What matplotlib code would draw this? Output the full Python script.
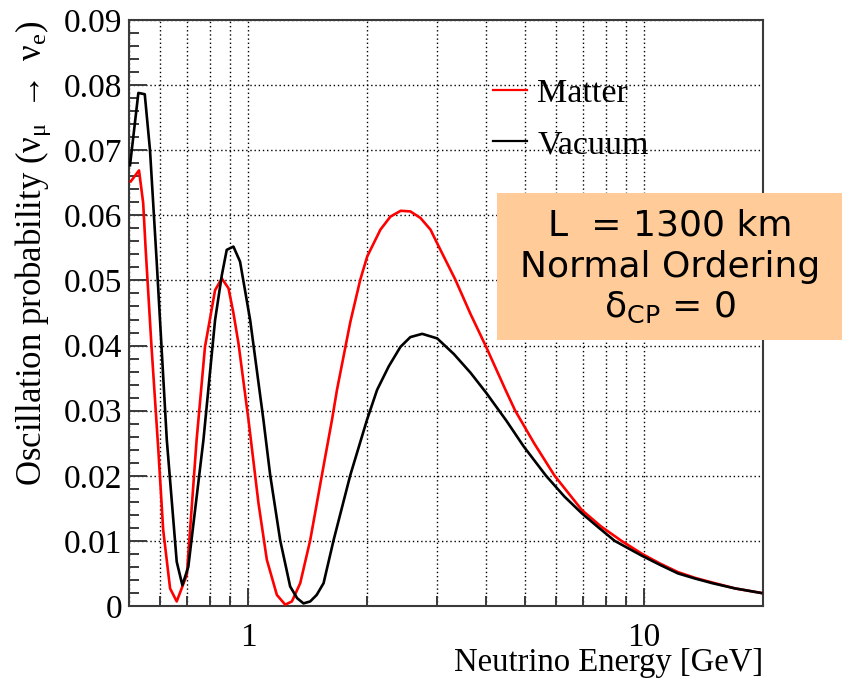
import matplotlib
matplotlib.use("Agg")
import matplotlib.pyplot as plt
from matplotlib.ticker import FixedLocator, NullFormatter, AutoMinorLocator, FuncFormatter, LogLocator
from matplotlib.patches import Rectangle

plt.rcParams['font.family'] = ['Liberation Serif', 'DejaVu Sans']
plt.rcParams['mathtext.default'] = 'regular'
plt.rcParams['mathtext.fontset'] = 'stix'

# ---- data ----
vac_E = [0.503, 0.528, 0.548, 0.565, 0.587, 0.623, 0.660, 0.682, 0.706, 0.771, 0.825,
         0.858, 0.883, 0.918, 0.954, 1.012, 1.093, 1.137, 1.205, 1.277, 1.330, 1.380,
         1.435, 1.490, 1.551, 1.644, 1.812, 1.997, 2.118, 2.266, 2.426, 2.570, 2.753,
         3.004, 3.31, 3.65, 4.00, 4.50, 4.97, 5.66, 6.30, 6.98, 7.70, 8.44, 9.90,
         11.0, 12.2, 13.5, 14.9, 17.0, 19.8]
vac_P = [0.0677, 0.0788, 0.0786, 0.0700, 0.0532, 0.0255, 0.0068, 0.0032, 0.0060, 0.0255, 0.0439,
         0.0508, 0.0547, 0.0552, 0.0529, 0.0439, 0.0286, 0.0201, 0.0101, 0.0030, 0.0012, 0.0004,
         0.0007, 0.0017, 0.0035, 0.0101, 0.0201, 0.0286, 0.0332, 0.0368, 0.0398, 0.0413, 0.0418,
         0.0411, 0.0387, 0.0358, 0.0327, 0.0284, 0.0245, 0.0200, 0.0168, 0.0142, 0.0120, 0.0100, 0.0077,
         0.0063, 0.0050, 0.0042, 0.0035, 0.0027, 0.0020]

mat_E = [0.505, 0.530, 0.543, 0.551, 0.570, 0.593, 0.610, 0.635, 0.660, 0.700, 0.741,
         0.778, 0.825, 0.858, 0.892, 0.918, 0.945, 1.002, 1.062, 1.115, 1.182, 1.241,
         1.290, 1.354, 1.435, 1.536, 1.629, 1.677, 1.812, 1.920, 2.000, 2.159, 2.288,
         2.430, 2.570, 2.725, 2.890, 3.004, 3.34, 3.65, 3.98, 4.47, 4.73, 5.28, 5.95,
         6.98, 7.80, 8.78, 9.90, 11.0, 12.2, 13.5, 14.9, 17.0, 19.8]
mat_P = [0.0652, 0.0669, 0.0619, 0.0547, 0.0398, 0.0240, 0.0117, 0.0027, 0.0007, 0.0048, 0.0255,
         0.0398, 0.0485, 0.0503, 0.0488, 0.0450, 0.0404, 0.0286, 0.0158, 0.0071, 0.0017, 0.0002,
         0.0007, 0.0035, 0.0101, 0.0201, 0.0286, 0.0332, 0.0436, 0.0501, 0.0537, 0.0578, 0.0598,
         0.0607, 0.0606, 0.0596, 0.0578, 0.0557, 0.0501, 0.0448, 0.0400, 0.0332, 0.0300, 0.0250, 0.0200,
         0.0147, 0.0122, 0.0100, 0.0080, 0.0065, 0.0052, 0.0043, 0.0036, 0.0027, 0.0020]

series_labels = ["Matter", "Vacuum"]
x_major = [1, 10]
x_major_labels = ["1", "10"]
y_major = [0, 0.01, 0.02, 0.03, 0.04, 0.05, 0.06, 0.07, 0.08, 0.09]
box_lines = ["L  = 1300 km", "Normal Ordering", r"$\delta_{CP}$ = 0"]

W, H = 842, 678
fig = plt.figure(figsize=(W / 100, H / 100), dpi=100)
L, R, T, B = 129, 763, 20, 606
ax = fig.add_axes([L / W, 1 - B / H, (R - L) / W, (B - T) / H])

ax.set_xscale('log')
ax.plot(mat_E, mat_P, color='#ff0000', lw=1.9, label=series_labels[0], zorder=3)
ax.plot(vac_E, vac_P, color='black', lw=1.9, label=series_labels[1], zorder=3)
ax.set_xlim(0.5, 20)
ax.set_ylim(0, 0.09)

ax.xaxis.set_major_locator(FixedLocator(x_major))
ax.xaxis.set_major_formatter(FuncFormatter(lambda v, p: x_major_labels[x_major.index(round(v))] if round(v) in x_major else ''))
ax.xaxis.set_minor_locator(LogLocator(base=10, subs=[2, 3, 4, 5, 6, 7, 8, 9]))
ax.xaxis.set_minor_formatter(NullFormatter())
ax.yaxis.set_major_locator(FixedLocator(y_major))
ax.yaxis.set_major_formatter(FuncFormatter(lambda v, p: '0' if abs(v) < 1e-9 else f'{v:.2f}'))
ax.yaxis.set_minor_locator(AutoMinorLocator(5))

spine_c = '#3a3a3a'
for s in ax.spines.values():
    s.set_color(spine_c)
    s.set_linewidth(1.5)
ax.tick_params(which='both', direction='in', color=spine_c, width=1.4, labelsize=24)
ax.tick_params(which='major', length=13)
ax.tick_params(which='minor', length=7)
ax.tick_params(axis='y', which='both', pad=5)
ax.tick_params(axis='x', which='both', pad=12)

gstyle = dict(color='black', linestyle=(0, (1, 2)), linewidth=1.0)
ax.grid(True, axis='x', which='both', **gstyle)
ax.grid(True, axis='y', which='major', **gstyle)
ax.set_axisbelow(True)

leg = ax.legend(loc='upper left', bbox_to_anchor=(493 / W, 1 - 78 / H), bbox_transform=fig.transFigure,
                frameon=False, fontsize=24.5, handlelength=1.0, handletextpad=0.3,
                labelspacing=0.6, borderpad=0, borderaxespad=0)
for h in leg.legend_handles:
    h.set_linewidth(1.6)

fig.text(33 / W, 1 - T / H, r'Oscillation probability ($\nu_{\mu}$ $\rightarrow$ $\nu_{e}$)',
         rotation=90, ha='center', va='top', fontsize=25, math_fontfamily='stix')
fig.text(R / W, 1 - 671 / H, 'Neutrino Energy [GeV]', ha='right', va='baseline', fontsize=23.5)

fig.add_artist(Rectangle((497 / W, 1 - 340 / H), 400 / W, 147 / H, transform=fig.transFigure,
                         facecolor='#ffcc99', edgecolor='none', zorder=10))
baselines = [236, 277, 317]
for txt, bl in zip(box_lines, baselines):
    fig.text(670 / W, 1 - bl / H, txt, ha='center', va='baseline', fontsize=26,
             family='DejaVu Sans', math_fontfamily='dejavusans', zorder=11)

fig.savefig('out.png', dpi=100)
